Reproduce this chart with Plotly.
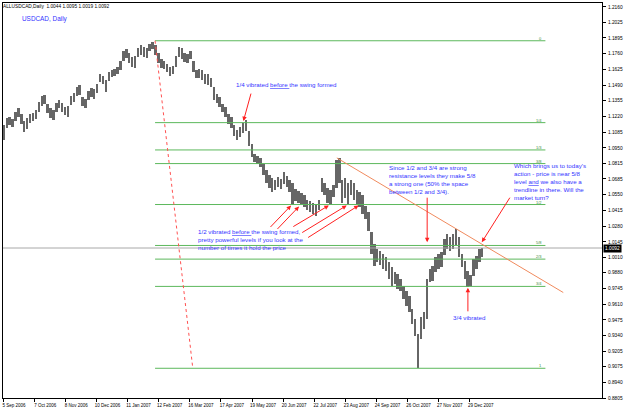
import pandas as pd
import plotly.graph_objects as go

# ---------------- data ----------------
bar_high = [1.1146, 1.1206, 1.1215, 1.1198, 1.1257, 1.1291, 1.1240, 1.1181, 1.1206, 1.1240,
 1.1249, 1.1274, 1.1342, 1.1394, 1.1402, 1.1325, 1.1291, 1.1274, 1.1334, 1.1359,
 1.1334, 1.1300, 1.1308, 1.1394, 1.1419, 1.1470, 1.1487, 1.1385, 1.1368, 1.1436,
 1.1462, 1.1453, 1.1496, 1.1589, 1.1572, 1.1530, 1.1598, 1.1623, 1.1632, 1.1649,
 1.1700, 1.1785, 1.1802, 1.1768, 1.1734, 1.1743, 1.1811, 1.1836, 1.1819, 1.1811,
 1.1845, 1.1862, 1.1836, 1.1768, 1.1717, 1.1700, 1.1674, 1.1649, 1.1657, 1.1743,
 1.1819, 1.1811, 1.1768, 1.1760, 1.1785, 1.1700, 1.1623, 1.1632, 1.1615, 1.1589,
 1.1581, 1.1547, 1.1470, 1.1411, 1.1385, 1.1325, 1.1300, 1.1240, 1.1215, 1.1146,
 1.1104, 1.1129, 1.1164, 1.1189, 1.1095, 1.0985, 1.0899, 1.0882, 1.0865, 1.0814,
 1.0763, 1.0720, 1.0695, 1.0678, 1.0703, 1.0686, 1.0746, 1.0712, 1.0678, 1.0652,
 1.0601, 1.0584, 1.0567, 1.0550, 1.0508, 1.0499, 1.0482, 1.0465, 1.0508, 1.0695,
 1.0652, 1.0610, 1.0593, 1.0635, 1.0848, 1.0865, 1.0678, 1.0695, 1.0652, 1.0678,
 1.0652, 1.0593, 1.0576, 1.0550, 1.0456, 1.0405, 1.0226, 1.0124, 1.0082, 1.0065,
 1.0039, 1.0014, 0.9971, 0.9928, 0.9886, 0.9869, 0.9826, 0.9767, 0.9724, 0.9681,
 0.9571, 0.9485, 0.9358, 0.9502, 0.9545, 0.9826, 0.9911, 0.9937, 1.0014, 1.0039,
 1.0056, 1.0167, 1.0209, 1.0184, 1.0209, 1.0252, 1.0184, 1.0039, 0.9979, 0.9894,
 0.9860, 0.9996, 1.0022, 1.0082, 1.0095]

bar_low = [1.1019, 1.1121, 1.1146, 1.1129, 1.1181, 1.1215, 1.1155, 1.1087, 1.1112, 1.1164,
 1.1181, 1.1198, 1.1257, 1.1308, 1.1325, 1.1249, 1.1206, 1.1189, 1.1257, 1.1291,
 1.1257, 1.1232, 1.1215, 1.1317, 1.1342, 1.1394, 1.1402, 1.1308, 1.1291, 1.1359,
 1.1385, 1.1368, 1.1419, 1.1513, 1.1496, 1.1428, 1.1521, 1.1555, 1.1564, 1.1589,
 1.1615, 1.1700, 1.1726, 1.1683, 1.1649, 1.1640, 1.1734, 1.1751, 1.1734, 1.1726,
 1.1785, 1.1802, 1.1751, 1.1683, 1.1640, 1.1632, 1.1598, 1.1572, 1.1581, 1.1649,
 1.1734, 1.1717, 1.1691, 1.1683, 1.1717, 1.1598, 1.1547, 1.1547, 1.1530, 1.1496,
 1.1487, 1.1470, 1.1359, 1.1334, 1.1300, 1.1257, 1.1215, 1.1155, 1.1121, 1.1053,
 1.1019, 1.1044, 1.1078, 1.1095, 1.0968, 1.0874, 1.0831, 1.0814, 1.0789, 1.0720,
 1.0652, 1.0610, 1.0576, 1.0593, 1.0618, 1.0601, 1.0644, 1.0618, 1.0576, 1.0465,
 1.0499, 1.0482, 1.0473, 1.0448, 1.0422, 1.0405, 1.0388, 1.0363, 1.0414, 1.0576,
 1.0550, 1.0482, 1.0465, 1.0533, 1.0610, 1.0652, 1.0482, 1.0525, 1.0473, 1.0550,
 1.0508, 1.0473, 1.0448, 1.0380, 1.0337, 1.0235, 1.0039, 0.9937, 0.9971, 0.9945,
 0.9911, 0.9894, 0.9826, 0.9767, 0.9784, 0.9741, 0.9724, 0.9656, 0.9596, 0.9545,
 0.9443, 0.9341, 0.9060, 0.9315, 0.9400, 0.9485, 0.9801, 0.9809, 0.9886, 0.9911,
 0.9928, 1.0031, 1.0082, 1.0065, 1.0082, 1.0116, 1.0014, 0.9928, 0.9826, 0.9758,
 0.9767, 0.9852, 0.9911, 0.9971, 1.0019]

bar_dates = pd.date_range("2006-09-06", periods=len(bar_high), freq="3D")

x_tick_dates = ["2006-09-05", "2006-10-07", "2006-11-08", "2006-12-10", "2007-01-11",
                "2007-02-12", "2007-03-16", "2007-04-17", "2007-05-19", "2007-06-20",
                "2007-07-22", "2007-08-23", "2007-09-24", "2007-10-26", "2007-11-27",
                "2007-12-29"]
x_tick_labels = ["5 Sep 2006", "7 Oct 2006", "8 Nov 2006", "10 Dec 2006", "11 Jan 2007",
                 "12 Feb 2007", "16 Mar 2007", "17 Apr 2007", "19 May 2007", "20 Jun 2007",
                 "22 Jul 2007", "23 Aug 2007", "24 Sep 2007", "26 Oct 2007", "27 Nov 2007",
                 "29 Dec 2007"]
y_tick_labels = ["1.2160", "1.2025", "1.1895", "1.1760", "1.1625", "1.1490", "1.1355",
                 "1.1220", "1.1085", "1.0950", "1.0815", "1.0685", "1.0550", "1.0415",
                 "1.0280", "1.0145", "1.0010", "0.9880", "0.9745", "0.9610", "0.9475",
                 "0.9340", "0.9205", "0.9075", "0.8940", "0.8805"]

current_price = 1.0092

# Fibonacci tool anchors and levels
fib_high = 1.1870
fib_low = 0.9060
fib_start = "2007-02-08 07:00"
fib_end = "2008-03-15 17:00"
fib_anchor_end = "2007-03-19 02:00"
fib_levels = [0, 0.25, 1/3, 0.375, 0.5, 0.625, 2/3, 0.75, 1]
fib_names = ["0", "1/4", "1/3", "3/8", "1/2", "5/8", "2/3", "3/4", "1"]

# trendline
trend_dates = ["2007-08-14 05:00", "2008-04-03 02:00"]
trend_prices = [1.0865, 0.9710]

x_range = ["2006-09-04 22:00", "2008-05-12 21:36"]
y_range = [0.8805, 1.2194]

# ---------------- figure ----------------
FONT = "Liberation Sans, Arial, sans-serif"
BLUE = "#3434ff"
RED = "#ff2020"

fig = go.Figure()

fig.add_trace(go.Bar(
    x=bar_dates, base=bar_low,
    y=[h - l for h, l in zip(bar_high, bar_low)],
    width=2.0 * 86400000,
    marker=dict(color="#666666", line=dict(width=0)),
    hoverinfo="skip"))

# current price line
fig.add_trace(go.Scatter(x=x_range, y=[current_price, current_price], mode="lines",
                         line=dict(color="#a8a8a8", width=1), hoverinfo="skip"))

# fib levels
for f in fib_levels:
    p = fib_high - f * (fib_high - fib_low)
    fig.add_trace(go.Scatter(x=[fib_start, fib_end], y=[p, p], mode="lines",
                             line=dict(color="#5cb85c", width=1), hoverinfo="skip"))
# fib anchor dotted line
fig.add_trace(go.Scatter(x=[fib_start, fib_anchor_end], y=[fib_high, fib_low], mode="lines",
                         line=dict(color="#ff5050", width=1, dash="dot"), hoverinfo="skip"))
# trendline
fig.add_trace(go.Scatter(x=trend_dates, y=trend_prices, mode="lines",
                         line=dict(color="#f08a5d", width=1), hoverinfo="skip"))

annotations = []
# fib labels
for f, name in zip(fib_levels, fib_names):
    p = fib_high - f * (fib_high - fib_low)
    annotations.append(dict(x=fib_end, y=p, xref="x", yref="y", text=name, showarrow=False,
                            xanchor="right", yanchor="bottom", xshift=-2, yshift=-1,
                            font=dict(family=FONT, size=4, color="#3c8c3c"), borderpad=0))

PW, PH, L, T = 603, 398, 2, 2


def px(xp):
    return (xp - L) / PW


def py(yp):
    return 1 - (yp - T) / PH


def note(xp, yp, text, size=6.2, color=BLUE, yanchor="middle"):
    annotations.append(dict(x=px(xp), y=py(yp), xref="paper", yref="paper", text=text,
                            showarrow=False, xanchor="left", yanchor=yanchor, align="left",
                            borderpad=0, font=dict(family=FONT, size=size, color=color)))


def arrow(tail, tip):
    annotations.append(dict(x=px(tip[0]), y=py(tip[1]), xref="paper", yref="paper", text="",
                            showarrow=True, ax=tail[0] - tip[0], ay=tail[1] - tip[1],
                            arrowhead=2, arrowsize=0.9, arrowwidth=1, arrowcolor=RED,
                            standoff=0))


note(1, 5.5, "ALLUSDCAD,Daily  1.0044 1.0095 1.0019 1.0092", size=4.8, color="#000000")
note(20, 18, "USDCAD, Daily", size=6.4)
note(236, 84, "1/4 vibrated <u>before </u>the swing formed")
arrow((252, 92), (244, 121))

note(197, 240.5, "1/2 vibrated <u>before </u>the swing formed,<br>pretty powerful levels if you look at the<br>number of times it hold the price")
for tail, tip in [((270, 229), (292, 206)), ((277, 231), (300, 207)), ((293, 228), (330, 206)),
                  ((302, 234), (348, 206)), ((308, 239), (360, 206))]:
    arrow(tail, tip)

note(390, 180, "Since 1/2 and 3/4 are strong<br>resistance levels they make 5/8<br>a strong one (50% the space<br>between 1/2 and 3/4).")
arrow((429, 197), (429, 243))

note(515, 181.5, "Which brings us to today's<br>action - price is near 5/8<br>level <u>and</u> we also have a<br>trendline in there. Will the<br>market turn?")
arrow((513, 197), (484, 243))

note(454, 319, "3/4 vibrated")
arrow((470, 314), (470, 289))

# current price tag on axis
annotations.append(dict(x=1, y=current_price, xref="paper", yref="y", text="1.0092",
                        showarrow=False, xanchor="left", yanchor="middle", xshift=1,
                        bgcolor="#000000", borderpad=1,
                        font=dict(family=FONT, size=4.8, color="#ffffff")))

fig.update_layout(
    width=625, height=410,
    margin=dict(l=L, r=20, t=T, b=10),
    paper_bgcolor="white", plot_bgcolor="white",
    showlegend=False, bargap=0,
    annotations=annotations,
    xaxis=dict(type="date", range=x_range, showgrid=False, zeroline=False,
               showline=True, mirror=True, linecolor="#000000", linewidth=1,
               ticks="outside", ticklen=3, tickcolor="#000000",
               tickvals=x_tick_dates, ticktext=x_tick_labels,
               tickfont=dict(family=FONT, size=4.5, color="#000000"),
               ticklabelshift=11, ticklabelstandoff=0, fixedrange=True),
    yaxis=dict(range=y_range, side="right", showgrid=False, zeroline=False,
               showline=True, mirror=True, linecolor="#000000", linewidth=1,
               ticks="outside", ticklen=3, tickcolor="#000000",
               tickvals=[float(v) for v in y_tick_labels], ticktext=y_tick_labels,
               tickfont=dict(family=FONT, size=4.8, color="#000000"),
               ticklabelstandoff=1, fixedrange=True),
)

fig.write_html("out.html")
